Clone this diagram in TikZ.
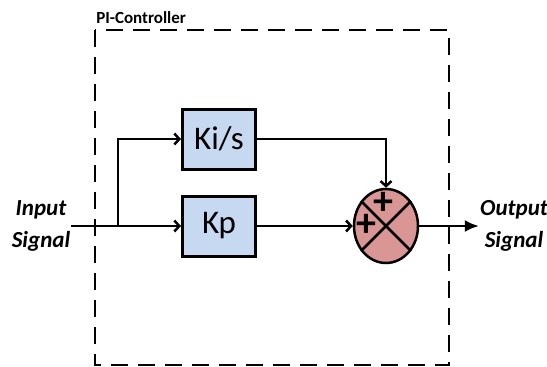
\documentclass[tikz,border=0pt]{standalone}
\usepackage{fontspec}
\setmainfont{Carlito}
\usetikzlibrary{arrows.meta,shapes.geometric}
\definecolor{boxblue}{RGB}{198,217,241}
\definecolor{sumred}{RGB}{217,150,148}

\begin{document}
\begin{tikzpicture}[x=1pt,y=-1pt,line width=2.5pt,>={Straight Barb[length=5pt,width=11pt]},
  blk/.style={draw,line width=3pt,fill=boxblue,minimum width=73pt,minimum height=60pt,font=\fontsize{33}{33}\selectfont},
  sig/.style={align=center,inner sep=0pt,font=\fontsize{23}{32}\selectfont\bfseries\itshape},
  pls/.style={inner sep=0pt,font=\fontsize{40}{40}\selectfont\bfseries}]
\useasboundingbox (0,0) rectangle (547,367);
\draw[line width=1.3pt,dash pattern=on 17pt off 10pt] (95,30) rectangle (449,365);
\node[anchor=base west,inner sep=0pt,font=\fontsize{17}{17}\selectfont\bfseries] (t) at (95,23) {PI-Controller};
\node[blk] (a) at (219,139) {Ki/s};
\node[blk] (b) at (219,226) {Kp};
\node[ellipse,draw,fill=sumred,minimum width=64pt,minimum height=74pt] (s) at (386,226) {};
\draw (s.45) -- (s.225); \draw (s.135) -- (s.315);
\node[pls] (p) at (383,203) {+};
\node[pls] (q) at (366,225) {+};
\node[sig] (i) at (41,226) {Input\\Signal};
\node[sig] (o) at (514,226) {Output\\Signal};
\coordinate (c) at (118,226);
\draw[->] (i) -- (b); \draw[->] (c) |- (a);
\draw[->] (a) -| (s); \draw[->] (b) -- (s);
\draw[-{Latex[length=14pt,width=12pt]}] (s) -- (o);
\end{tikzpicture}
\end{document}
